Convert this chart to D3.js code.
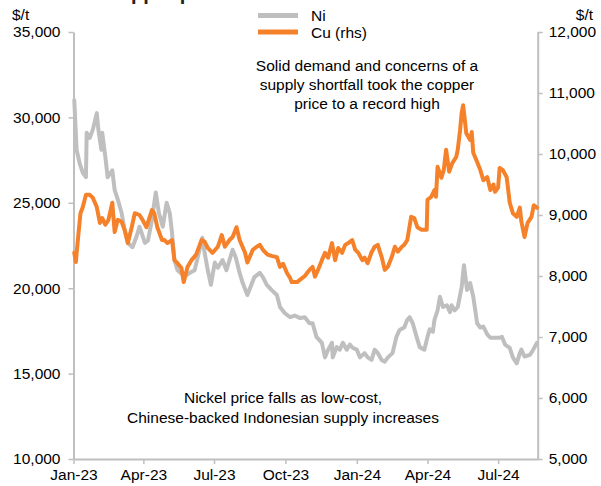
<!DOCTYPE html>
<html>
<head>
  <meta charset="utf-8">
  <script type="text/javascript" src="https://cdn.jsdelivr.net/npm/d3@7"></script>
  <style>
    body { margin: 0; background: #fff; }
    text { font-family: "Liberation Sans", Arial, sans-serif; fill: #000; }
  </style>
</head>
<body>
  <div id="chart"></div>
  <script type="text/javascript">
    // Ni price, $/t (left axis)
    var niDates = ["2023-01-02","2023-01-05","2023-01-09","2023-01-13","2023-01-17","2023-01-18","2023-01-22","2023-01-26","2023-01-31",
      "2023-02-02","2023-02-06","2023-02-07","2023-02-11","2023-02-14","2023-02-20","2023-02-23","2023-02-27",
      "2023-03-04","2023-03-08","2023-03-12","2023-03-18","2023-03-23","2023-03-27",
      "2023-04-03","2023-04-07","2023-04-12","2023-04-17","2023-04-21","2023-04-26",
      "2023-05-01","2023-05-05","2023-05-08","2023-05-11","2023-05-15","2023-05-24","2023-05-31",
      "2023-06-06","2023-06-10","2023-06-16","2023-06-19","2023-06-23","2023-06-27",
      "2023-07-02","2023-07-06","2023-07-12","2023-07-17","2023-07-21","2023-07-25","2023-07-29",
      "2023-08-03","2023-08-07","2023-08-13","2023-08-19","2023-08-22","2023-08-29",
      "2023-09-02","2023-09-07","2023-09-13","2023-09-20","2023-09-24","2023-09-30",
      "2023-10-07","2023-10-13","2023-10-20","2023-10-26",
      "2023-11-01","2023-11-05","2023-11-10","2023-11-17","2023-11-21","2023-11-25","2023-11-30",
      "2023-12-01","2023-12-06","2023-12-10","2023-12-14","2023-12-19","2023-12-23","2023-12-27",
      "2024-01-01","2024-01-05","2024-01-11","2024-01-15","2024-01-20","2024-01-24","2024-01-28",
      "2024-02-02","2024-02-06","2024-02-10","2024-02-16","2024-02-21","2024-02-25",
      "2024-03-02","2024-03-06","2024-03-09","2024-03-13","2024-03-18","2024-03-22","2024-03-28",
      "2024-04-01","2024-04-04","2024-04-08","2024-04-10","2024-04-14","2024-04-17","2024-04-21","2024-04-26","2024-04-30",
      "2024-05-02","2024-05-06","2024-05-10","2024-05-15","2024-05-18","2024-05-22","2024-05-26","2024-05-30",
      "2024-06-04","2024-06-08","2024-06-12","2024-06-17","2024-06-21","2024-06-27",
      "2024-07-03","2024-07-06","2024-07-10","2024-07-16","2024-07-20","2024-07-25","2024-07-29","2024-07-31",
      "2024-08-04","2024-08-11","2024-08-14","2024-08-20"];
    var niValues = [31000,28100,27300,26750,26500,29100,28800,29300,30250,
      29300,28100,29100,27700,26500,26900,25750,25200,
      24400,23400,22650,22400,23000,23600,
      22650,22800,24000,25600,24400,23600,
      25000,24400,23200,21650,21050,20700,20900,
      21050,21800,22950,22050,21050,20200,
      21500,21200,21650,21050,21650,22250,21800,
      20900,20300,19600,20300,20650,20900,
      20650,20200,19900,19600,18900,18550,
      18300,18400,18250,18300,
      17950,17950,17150,16800,15950,16400,16800,
      15950,16550,16400,16800,16400,16700,16500,
      16400,15950,16200,15950,15800,16400,16200,
      15800,15700,15950,16200,17150,17550,
      17700,18150,18300,17950,17150,16550,16400,
      17150,17600,17450,18150,18700,19500,18900,19000,18600,
      19000,18700,18900,20050,21350,19900,20300,19500,
      17950,17700,17750,17300,17100,17100,
      17100,17150,16700,16500,15950,15600,16200,16400,
      16000,16100,16300,16800];

    // Cu price, $/t (right axis)
    var cuDates = ["2023-01-02","2023-01-04","2023-01-07","2023-01-10","2023-01-13","2023-01-17","2023-01-22","2023-01-26","2023-01-31",
      "2023-02-04","2023-02-07","2023-02-11","2023-02-15","2023-02-20","2023-02-23","2023-02-27",
      "2023-03-04","2023-03-08","2023-03-12","2023-03-17","2023-03-21","2023-03-27","2023-03-31",
      "2023-04-05","2023-04-12","2023-04-15","2023-04-19","2023-04-25","2023-04-28",
      "2023-05-02","2023-05-08","2023-05-11","2023-05-15","2023-05-20","2023-05-23","2023-05-28",
      "2023-06-02","2023-06-08","2023-06-15","2023-06-19","2023-06-23","2023-06-29",
      "2023-07-06","2023-07-11","2023-07-15","2023-07-21","2023-07-25","2023-07-30",
      "2023-08-03","2023-08-10","2023-08-13","2023-08-20","2023-08-25","2023-08-29",
      "2023-09-02","2023-09-08","2023-09-13","2023-09-20","2023-09-24","2023-09-28",
      "2023-10-03","2023-10-07","2023-10-09","2023-10-16","2023-10-20","2023-10-26",
      "2023-11-01","2023-11-05","2023-11-08","2023-11-12","2023-11-17","2023-11-21","2023-11-25","2023-11-30",
      "2023-12-04","2023-12-08","2023-12-13","2023-12-17","2023-12-21","2023-12-26","2023-12-30",
      "2024-01-03","2024-01-08","2024-01-11","2024-01-15","2024-01-20","2024-01-24","2024-01-28",
      "2024-02-02","2024-02-06","2024-02-10","2024-02-15","2024-02-19","2024-02-23","2024-02-28",
      "2024-03-02","2024-03-06","2024-03-11","2024-03-15","2024-03-19","2024-03-24","2024-03-31",
      "2024-04-01","2024-04-06","2024-04-10","2024-04-12","2024-04-14","2024-04-19","2024-04-22","2024-04-25","2024-04-29",
      "2024-05-03","2024-05-08","2024-05-10","2024-05-13","2024-05-15","2024-05-17","2024-05-21","2024-05-26","2024-05-28","2024-05-30",
      "2024-06-04","2024-06-08","2024-06-12","2024-06-17","2024-06-21","2024-06-25","2024-06-27",
      "2024-07-01","2024-07-03","2024-07-07","2024-07-12","2024-07-16","2024-07-20","2024-07-25","2024-07-29","2024-07-31",
      "2024-08-04","2024-08-08","2024-08-13","2024-08-16","2024-08-20"];
    var cuValues = [8380,8230,8640,9030,9130,9330,9330,9280,9130,
      8870,8950,8840,8920,9200,8720,8920,
      8890,8750,8540,8800,9030,9000,8920,
      8800,9080,9030,8800,8590,8590,
      8540,8590,8260,8210,8130,7900,8150,
      8260,8350,8590,8560,8460,8380,
      8480,8670,8480,8590,8640,8800,
      8590,8380,8220,8430,8480,8510,
      8430,8350,8330,8310,8150,8200,
      8050,7970,7900,7900,7940,8000,
      8100,8150,7990,8100,8260,8380,8300,8540,
      8260,8460,8380,8510,8540,8590,8430,
      8380,8260,8300,8210,8390,8480,8510,
      8310,8100,8150,8310,8480,8400,8480,
      8510,8590,8970,8950,8800,8760,8760,
      9250,9300,9410,9300,9790,9610,9740,10070,9710,
      9850,9950,10070,10390,10670,10800,10340,10230,10360,10020,
      9870,9740,9570,9620,9410,9500,9380,
      9450,9770,9740,9620,9200,9030,8970,9120,8890,
      8640,8870,8970,9160,9120];

    var leftTicks = [10000, 15000, 20000, 25000, 30000, 35000];
    var rightTicks = [5000, 6000, 7000, 8000, 9000, 10000, 11000, 12000];
    var xTicks = ["2023-01-01","2023-04-01","2023-07-01","2023-10-01","2024-01-01","2024-04-01","2024-07-01"];

    var w = 601;
    var h = 486;
    var plotL = 73.5, plotR = 537.7, plotT = 32, plotB = 459;
    var grey = "#bfbfbf";
    var orange = "#f5822a";
    var fs = "15.5px";

    var parse = d3.timeParse("%Y-%m-%d");
    var ni = niDates.map(function(d, i) { return { date: parse(d), value: niValues[i] }; });
    var cu = cuDates.map(function(d, i) { return { date: parse(d), value: cuValues[i] }; });

    var svg = d3.select("#chart")
                .append("svg")
                .attr("width", w)
                .attr("height", h);

    var xScale = d3.scaleTime()
                   .domain([parse("2023-01-01"), parse("2024-08-21")])
                   .range([plotL, plotR]);
    var yLeft = d3.scaleLinear().domain([10000, 35000]).range([plotB, plotT]);
    var yRight = d3.scaleLinear().domain([5000, 12000]).range([plotB, plotT]);

    // title, mostly cut off at the top edge
    svg.append("text")
       .attr("x", 2)
       .attr("y", 0)
       .style("font-weight", "bold")
       .style("font-size", "20px")
       .style("fill", "#222")
       .text("Nickel and copper prices");

    // axes
    var fmt = d3.format(",");
    var gL = svg.append("g")
                .attr("transform", "translate(" + plotL + ",0)")
                .call(d3.axisLeft(yLeft).tickValues(leftTicks).tickFormat(fmt).tickSize(5).tickSizeOuter(0).tickPadding(8));
    var gR = svg.append("g")
                .attr("transform", "translate(" + plotR + ",0)")
                .call(d3.axisRight(yRight).tickValues(rightTicks).tickFormat(fmt).tickSize(5).tickSizeOuter(0).tickPadding(6));
    var gB = svg.append("g")
                .attr("transform", "translate(0," + plotB + ")")
                .call(d3.axisBottom(xScale).tickValues(xTicks.map(parse)).tickFormat(d3.timeFormat("%b-%y")).tickSize(5).tickSizeOuter(0).tickPadding(5));

    [gL, gR, gB].forEach(function(g) {
      g.select(".domain").attr("stroke", grey).attr("stroke-width", 2);
      g.selectAll(".tick line").attr("stroke", grey).attr("stroke-width", 1.5);
      g.selectAll(".tick text")
       .style("font-family", "'Liberation Sans', Arial, sans-serif")
       .style("font-size", fs)
       .attr("fill", "#000");
    });

    // lines
    var lineL = d3.line()
                  .x(function(d) { return xScale(d.date); })
                  .y(function(d) { return yLeft(d.value); });
    var lineR = d3.line()
                  .x(function(d) { return xScale(d.date); })
                  .y(function(d) { return yRight(d.value); });

    svg.append("path")
       .datum(ni)
       .attr("fill", "none")
       .attr("stroke", grey)
       .attr("stroke-width", 4)
       .attr("stroke-linejoin", "round")
       .attr("stroke-linecap", "round")
       .attr("d", lineL);

    svg.append("path")
       .datum(cu)
       .attr("fill", "none")
       .attr("stroke", orange)
       .attr("stroke-width", 4)
       .attr("stroke-linejoin", "round")
       .attr("stroke-linecap", "round")
       .attr("d", lineR);

    // units
    svg.append("text").attr("x", 12).attr("y", 20).style("font-size", fs).text("$/t");
    svg.append("text").attr("x", 593).attr("y", 20).attr("text-anchor", "end").style("font-size", fs).text("$/t");

    // legend
    var legend = [{ name: "Ni", color: grey }, { name: "Cu (rhs)", color: orange }];
    legend.forEach(function(d, i) {
      var y = 15.5 + i * 16.5;
      svg.append("line")
         .attr("x1", 258).attr("x2", 298)
         .attr("y1", y).attr("y2", y)
         .attr("stroke", d.color)
         .attr("stroke-width", 5);
      svg.append("text")
         .attr("x", 311).attr("y", y + 5.5)
         .style("font-size", fs)
         .text(d.name);
    });

    // annotations
    var cuNote = ["Solid demand and concerns of a", "supply shortfall took the copper", "price to a record high"];
    var niNote = ["Nickel price falls as low-cost,", "Chinese-backed Indonesian supply increases"];
    cuNote.forEach(function(t, i) {
      svg.append("text")
         .attr("x", 367).attr("y", 71 + i * 19)
         .attr("text-anchor", "middle")
         .style("font-size", fs)
         .text(t);
    });
    niNote.forEach(function(t, i) {
      svg.append("text")
         .attr("x", 283).attr("y", 403 + i * 20)
         .attr("text-anchor", "middle")
         .style("font-size", fs)
         .text(t);
    });
  </script>
</body>
</html>
